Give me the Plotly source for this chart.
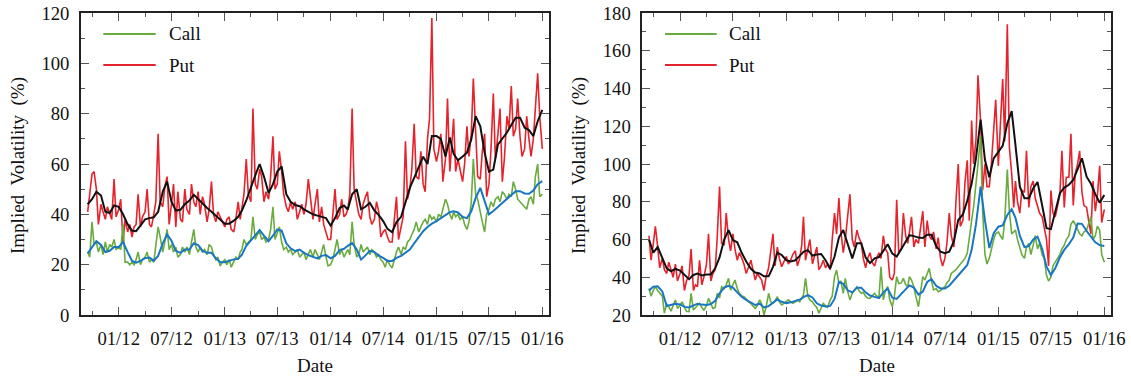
import plotly.graph_objects as go

W, H = 1131, 377

# ---------------- date grids ----------------
def weekly_dates():
    d = ["2011-09-16", "2011-09-23"]
    for y in range(2011, 2016):
        for m in range(1, 13):
            if y == 2011 and m < 10:
                continue
            for day in (1, 8, 16, 23):
                d.append(f"{y}-{m:02d}-{day:02d}")
    d.append("2016-01-01")
    return d

def semimonthly_dates():
    d = ["2011-09-16"]
    for y in range(2011, 2016):
        for m in range(1, 13):
            if y == 2011 and m < 10:
                continue
            for day in (1, 16):
                d.append(f"{y}-{m:02d}-{day:02d}")
    d.append("2016-01-01")
    return d

raw_dates = weekly_dates()
smooth_dates = semimonthly_dates()

# ---------------- LEFT PANEL ----------------
left_put_raw = [
    41, 47, 56, 57, 50, 36, 44, 41, 38, 43, 40, 38, 54, 39,
    42, 46, 29, 38, 33, 36, 31, 35, 36, 48, 35, 39, 41, 50, 36, 35, 40, 45, 72, 45, 43, 51, 55, 36,
    44, 52, 35, 49, 38, 37, 50, 42, 40, 52, 45, 43, 49, 40, 47, 44, 37, 42, 53, 40, 37, 41, 39, 37,
    35, 38, 39, 34, 33, 38, 45, 38, 42, 48, 62, 48, 45, 82, 52, 50, 58, 55, 45, 49, 46, 55, 71, 50,
    52, 65, 57, 48, 43, 41, 45, 42, 45, 38, 41, 44, 40, 44, 54, 46, 38, 44, 50, 37, 43, 36, 33, 30,
    30, 38, 50, 38, 40, 46, 39, 40, 42, 48, 82, 50, 45, 40, 38, 44, 47, 49, 39, 36, 38, 45, 41, 31,
    33, 34, 31, 29, 29, 38, 47, 30, 36, 39, 69, 46, 50, 58, 76, 55, 54, 65, 52, 49, 70, 78, 118, 66,
    61, 65, 72, 53, 62, 86, 57, 70, 78, 57, 62, 58, 53, 60, 75, 63, 72, 94, 70, 55, 54, 65, 72, 47,
    52, 66, 88, 62, 72, 82, 53, 62, 79, 74, 91, 71, 74, 86, 71, 63, 66, 79, 70, 63, 70, 83, 96, 79,
    66,
]
left_call_raw = [
    25, 23, 37, 28, 29, 25, 28, 24, 29, 25, 28, 27, 30, 26,
    27, 26, 36, 21, 21, 20, 21, 20, 22, 25, 20, 22, 23, 25, 21, 22, 21, 28, 35, 31, 25, 29, 34, 26,
    28, 25, 27, 23, 24, 27, 25, 27, 24, 29, 34, 27, 25, 27, 25, 26, 24, 28, 27, 24, 22, 23, 19.5, 21,
    22, 20, 22, 19, 21, 23, 22, 25, 26, 30, 28, 29, 30, 39, 30, 32, 33, 30, 31, 29, 30, 34, 43, 30,
    33, 35, 29, 26, 27, 25, 26, 24, 25, 26, 23, 24, 25, 22, 24, 26, 23, 26, 24, 22, 25, 28, 23, 19.5,
    20, 22, 26, 30, 24, 26, 23, 25, 26, 24, 37, 28, 23, 24, 28, 25, 26, 27, 24, 26, 25, 23, 24, 22,
    21, 19, 22, 20, 18.7, 22, 25, 27, 24, 27, 26, 29, 30, 32, 34, 37, 33, 35, 37, 38, 36, 40, 38, 39,
    37, 40, 39, 42, 46, 44, 40, 38, 41, 39, 40, 38, 39, 36, 34, 37, 45, 62, 48, 46, 40, 37, 33, 40,
    42, 45, 43, 46, 47, 45, 49, 48, 46, 48, 47, 53, 50, 46, 45, 44, 43, 42, 46, 47, 44, 55, 60, 47,
    48,
]
left_put_smooth = [
    44, 46, 49, 47.5, 41, 40.5, 43.5,
    43, 40, 36, 33.5, 33.3, 35.5, 38, 38.5, 38.8, 41, 49, 53, 45, 41.5, 41.8, 44, 45.5, 47.8, 46, 44.2, 42.5, 41, 39.5, 38,
    36.3, 36.3, 37.5, 39, 41.5, 45.5, 51, 55.5, 60, 55, 48.5, 52, 57, 59, 48, 45, 43.7, 43.2, 42, 41, 40, 39.5, 39, 38.5,
    35.5, 38.5, 42.5, 43.5, 41.9, 48, 50, 42, 43, 44.6, 41.5, 39.7, 37.3, 34.2, 32.9, 36.9, 39, 44.6, 50.5, 54.5, 58.5, 62.9, 60, 71.1,
    71.1, 70, 63, 70.5, 64, 61.5, 63, 64.5, 69.8, 79, 75, 64.5, 57, 57.8, 67.8, 70, 72.5, 75.5, 78.4, 78.4, 74.4, 73.5, 71.1, 77,
    81.5,
]
left_call_smooth = [
    24.5, 27, 29.3, 27.8, 25, 25.5, 27,
    27, 29, 25, 21.5, 20.8, 21.5, 22.6, 22.8, 21.6, 23.5, 28.5, 32, 29.5, 25.5, 24.7, 26, 26, 28.5, 27.8, 25.5, 24.7, 24.7, 22.5, 21,
    21, 21.6, 22.1, 22.3, 24, 27.5, 29.8, 32, 33.7, 31.5, 29.3, 31.5, 34, 33.5, 28.5, 26.5, 25.4, 26, 24.7, 23.8, 23, 22.5, 23.5, 23.8,
    22.5, 23.5, 25.8, 26.3, 27.5, 28.6, 26, 22, 23.7, 25.5, 25, 23.6, 22.7, 21.5, 21.5, 22.7, 23.5, 24.7, 26, 28.5, 31.2, 33.3, 35, 36.3,
    37.3, 38.5, 39.8, 40.9, 41.2, 40.8, 39, 38.5, 41.2, 46.5, 50.5, 45, 40, 41.3, 43, 44.7, 46.4, 48, 49.2, 49.2, 48.3, 48.2, 49.5, 52,
    53.2,
]

# ---------------- RIGHT PANEL ----------------
right_put_raw = [
    62, 49, 58, 67, 56, 45, 50, 44, 42, 48, 44, 40, 47, 38,
    42, 46, 33, 38, 41, 55, 33, 36, 35, 49, 36, 40, 47, 63, 38, 42, 44, 61, 88, 58, 57, 74, 60, 54,
    63, 55, 49, 53, 50, 47, 42, 45, 49, 44, 38.5, 42, 40, 38.5, 33, 40, 45, 55, 63, 46, 56, 50, 45.6, 48,
    51, 47, 49, 52, 54, 46, 50, 57, 72, 49, 54, 60, 47, 52, 56, 44, 46, 49, 45, 47, 44, 60, 74, 63,
    82, 64, 53, 60, 74, 84, 60, 56, 65, 61, 58, 50, 45, 50, 53, 48, 46, 50, 53, 50, 62, 55, 53, 40,
    38.5, 42, 81, 53, 55, 74, 62, 58, 64, 72, 56, 60, 58, 66, 75, 56, 70, 62, 60, 64, 55, 61, 50, 46,
    50, 58, 74, 62, 56, 80, 100, 67, 70, 90, 102, 70, 123, 100, 113, 147, 122, 86, 100, 88, 88, 100, 116, 134,
    99, 120, 145, 112, 174, 109, 95, 77, 91, 80, 74, 86, 85, 107, 77, 88, 91, 82, 77, 74, 72, 66, 60, 46,
    86, 74, 72, 77, 84, 107, 77, 93, 93, 116, 78, 95, 100, 107, 85, 78, 77, 70, 63, 91, 75, 83, 99, 69,
    76,
]
right_call_raw = [
    34, 30, 33, 35, 33, 31.5, 30, 21, 26, 24.4, 22, 25, 28, 23.5,
    25, 27, 24, 22, 21.8, 31.5, 22.6, 24, 25, 26.2, 24, 22.6, 25, 28.8, 26, 23.5, 24, 31.5, 29, 35, 34, 36, 39.4, 33.2,
    36, 38.5, 34, 31.5, 30, 29.7, 28.5, 27, 26, 25, 23.5, 25, 28, 26, 20, 24, 31.5, 27, 26.2, 27.5, 29.7, 27, 25.3, 26,
    27, 28, 27, 26.2, 27, 28, 27, 29, 30.6, 39.4, 30, 28, 27, 25.3, 24, 20.9, 24, 26.2, 25, 24, 28, 30, 40.3, 43.8,
    37, 38, 31.5, 39.4, 32, 28, 31.5, 33, 35, 33, 31.5, 32, 30, 29, 28.8, 30, 31.5, 30, 29.7, 45.6, 28, 33, 35, 28,
    24.4, 30, 40.3, 36.7, 37, 39.4, 36, 35, 40.3, 38.5, 35, 29.7, 24.4, 32, 40.3, 38.5, 42, 44.7, 38, 33.3, 34, 32.4, 33, 34,
    35, 37, 38.5, 42, 43, 44, 45.6, 47, 49.1, 50, 52.7, 59.7, 70, 77.4, 91.5, 100, 115, 75, 52, 47, 50, 55, 60, 63,
    64, 62, 60, 70, 97, 75, 63, 64, 65, 60, 55, 52, 50, 56, 58, 52, 57, 62, 55, 58, 52, 50, 41, 38,
    40, 46, 48, 50, 52, 55, 57, 60, 62, 68, 70, 68, 65, 63, 62, 64, 65, 68, 72, 60, 62, 67, 65, 52,
    48,
]
right_put_smooth = [
    60, 53, 56, 50, 44.7, 43.2, 44.5,
    43.5, 41.5, 39, 41.2, 42, 41, 41.5, 41.5, 44.7, 50.5, 60, 65, 59.7, 58.5, 52.7, 48.3, 44.5, 42.5, 42, 40.5, 40.5, 45.5, 53, 51.8,
    49, 48.3, 49, 51.3, 53.5, 54.4, 51.5, 52, 52.3, 49, 44.7, 51, 61, 65, 57.5, 50, 58, 58, 50.5, 47.5, 50, 50.7, 54, 57.5,
    52.5, 51, 55, 58.9, 62.3, 61.8, 61, 60.8, 62.5, 62.5, 56.5, 53.5, 52.7, 53.5, 59, 70.3, 73.3, 80.5, 89.5, 103, 123.5, 102.1, 93, 103,
    106.5, 109.6, 121.5, 128, 110, 88, 81.8, 81.8, 87, 90.5, 78, 66, 65.5, 74, 84.5, 87.5, 89, 91.5, 97.5, 103, 93.3, 89.5, 84, 79.5,
    83.6,
]
right_call_smooth = [
    33, 35, 35.2, 32.5, 24.8, 25.2, 26,
    25.6, 24.3, 24, 25.2, 26, 25.5, 25.3, 25.8, 27.5, 31.5, 34.5, 35.5, 34.5, 32, 29.5, 28, 26.7, 25.3, 26, 24, 24.7, 26.5, 28.2, 27,
    26.3, 26.7, 27.3, 28.1, 29.5, 30.5, 29.3, 26.2, 25, 24.5, 24.8, 28.5, 37.5, 36.5, 33, 32, 34.5, 34.5, 32, 30.3, 29.6, 29, 32, 34,
    29.2, 28.5, 31.2, 33.5, 35.7, 34.5, 30.8, 32.4, 37.5, 39, 35.5, 34.1, 34.1, 35.5, 38.3, 41.5, 44.3, 46.5, 54.4, 68, 88, 70, 55.5, 63.3,
    66.8, 67.5, 73, 76, 71.5, 62, 56, 56.5, 60, 61.5, 55, 45.6, 41.2, 44.8, 50.5, 54.5, 57.5, 61, 68.5, 68.3, 64.5, 61.5, 58.5, 57,
    56.6,
]

for name, arr, ref in [("left_put_raw", left_put_raw, raw_dates), ("left_call_raw", left_call_raw, raw_dates),
                       ("right_put_raw", right_put_raw, raw_dates), ("right_call_raw", right_call_raw, raw_dates),
                       ("left_put_smooth", left_put_smooth, smooth_dates), ("left_call_smooth", left_call_smooth, smooth_dates),
                       ("right_put_smooth", right_put_smooth, smooth_dates), ("right_call_smooth", right_call_smooth, smooth_dates)]:
    assert len(arr) == len(ref), f"{name}: {len(arr)} vs {len(ref)}"

# ---------------- styles ----------------
GREEN = "#6aab3f"
RED = "#e5232d"
BLUE = "#1976c2"
BLACK = "#111111"
FONT = "Liberation Serif, Times New Roman, Times, DejaVu Serif, serif"
FS = 18.7

def px(x):
    return x / W

def py(y):
    return (H - y) / H

fig = go.Figure()

panels = [
    ("x", "y", left_put_raw, left_call_raw, left_put_smooth, left_call_smooth),
    ("x2", "y2", right_put_raw, right_call_raw, right_put_smooth, right_call_smooth),
]
for xa, ya, pr, cr, ps, cs in panels:
    fig.add_trace(go.Scatter(x=raw_dates, y=pr, mode="lines", line=dict(color=RED, width=1.6),
                             xaxis=xa, yaxis=ya, showlegend=False, name="Put"))
    fig.add_trace(go.Scatter(x=raw_dates, y=cr, mode="lines", line=dict(color=GREEN, width=1.6),
                             xaxis=xa, yaxis=ya, showlegend=False, name="Call"))
    fig.add_trace(go.Scatter(x=smooth_dates, y=cs, mode="lines", line=dict(color=BLUE, width=2),
                             xaxis=xa, yaxis=ya, showlegend=False))
    fig.add_trace(go.Scatter(x=smooth_dates, y=ps, mode="lines", line=dict(color=BLACK, width=2),
                             xaxis=xa, yaxis=ya, showlegend=False))

xrange_ = ["2011-08-24", "2016-01-24"]

def xaxis(domain):
    return dict(
        domain=domain, type="date", range=xrange_, automargin=False,
        tick0="2012-01-01", dtick="M6", tickformat="%m/%y",
        ticks="inside", ticklen=8, tickwidth=1, tickcolor="#555",
        minor=dict(dtick="M3", tick0="2012-01-01", ticks="inside", ticklen=4, tickwidth=1, tickcolor="#555", showgrid=False),
        showline=True, linecolor="#222", linewidth=1.6, mirror="ticks",
        showgrid=False, zeroline=False,
        tickfont=dict(family=FONT, size=FS, color="#111"),
        ticklabelstandoff=6,
    )

def yaxis(domain, rng):
    return dict(
        domain=domain, range=rng, dtick=20, tick0=0, automargin=False,
        ticks="inside", ticklen=8, tickwidth=1, tickcolor="#555",
        minor=dict(dtick=10, ticks="inside", ticklen=4, tickwidth=1, tickcolor="#555", showgrid=False),
        showline=True, linecolor="#222", linewidth=1.6, mirror="ticks",
        showgrid=False, zeroline=False,
        tickfont=dict(family=FONT, size=FS, color="#111"),
        ticklabelstandoff=6,
    )

ydom = [py(315), py(13)]
fig.update_layout(
    width=W, height=H, autosize=False,
    margin=dict(l=0, r=0, t=0, b=0, pad=0, autoexpand=False),
    paper_bgcolor="white", plot_bgcolor="white",
    xaxis=xaxis([px(81), px(549)]),
    yaxis=dict(yaxis(ydom, [0, 120]), anchor="x"),
    xaxis2=dict(xaxis([px(642.3), px(1111)]), anchor="y2"),
    yaxis2=dict(yaxis(ydom, [20, 180]), anchor="x2"),
    showlegend=False,
)

annotations = []
shapes = []
ytitle = "Implied\u00a0\u00a0Volatility\u00a0\u00a0(%)"
for tx, cx, lx0, lx1, txt_x in [(18, 315, 103.3, 155.7, 167.3), (579, 876.5, 665, 716.7, 727.3)]:
    annotations.append(dict(text=ytitle, x=px(tx), y=py(166), xref="paper", yref="paper",
                            textangle=-90, showarrow=False, xanchor="center", yanchor="middle",
                            font=dict(family=FONT, size=19, color="#111")))
    annotations.append(dict(text="Date", x=px(cx), y=py(365), xref="paper", yref="paper",
                            showarrow=False, xanchor="center", yanchor="middle",
                            font=dict(family=FONT, size=19, color="#111")))
    for label, color, yy in [("Call", GREEN, 34), ("Put", RED, 65)]:
        shapes.append(dict(type="line", xref="paper", yref="paper", x0=px(lx0), x1=px(lx1),
                           y0=py(yy), y1=py(yy), line=dict(color=color, width=2)))
        annotations.append(dict(text=label, x=px(txt_x), y=py(yy), xref="paper", yref="paper",
                                showarrow=False, xanchor="left", yanchor="middle",
                                font=dict(family=FONT, size=19, color="#111")))

fig.update_layout(annotations=annotations, shapes=shapes)
fig.write_html("out.html")
